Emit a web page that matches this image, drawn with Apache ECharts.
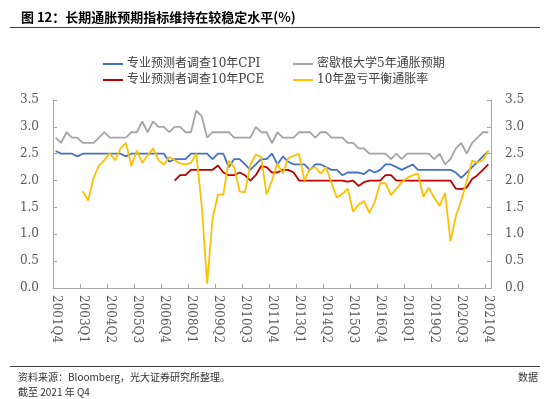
<!DOCTYPE html>
<html>
<head>
<meta charset="utf-8">
<title>长期通胀预期指标</title>
<script src="https://cdn.jsdelivr.net/npm/echarts@6/dist/echarts.min.js"></script>
<style>
  html, body { margin: 0; padding: 0; background: #fff; }
  #chart { width: 550px; height: 399px; }
</style>
</head>
<body>
<div id="chart"></div>
<script>
// 季度标签 2001Q4 - 2021Q4
const quarters = [];
for (let y = 2001; y <= 2021; y++) {
  for (let q = 1; q <= 4; q++) {
    if (y === 2001 && q < 4) continue;
    quarters.push(y + 'Q' + q);
  }
}

// 专业预测者调查10年CPI
const spfCpi = [
  2.55, 2.5, 2.5, 2.5, 2.45, 2.5, 2.5, 2.5, 2.5, 2.5,
  2.5, 2.5, 2.5, 2.45, 2.5, 2.5, 2.5, 2.5, 2.5, 2.5,
  2.5, 2.35, 2.4, 2.4, 2.4, 2.5, 2.5, 2.5, 2.5, 2.4,
  2.5, 2.5, 2.25, 2.4, 2.4, 2.3, 2.2, 2.3, 2.4, 2.4,
  2.5, 2.3, 2.45, 2.35, 2.3, 2.3, 2.3, 2.2, 2.3, 2.3,
  2.25, 2.2, 2.2, 2.1, 2.15, 2.15, 2.15, 2.12, 2.2, 2.15,
  2.2, 2.3, 2.3, 2.25, 2.2, 2.25, 2.3, 2.2, 2.2, 2.2,
  2.2, 2.2, 2.2, 2.2, 2.15, 2.05, 2.15, 2.25, 2.35, 2.45,
  2.55
];

// 密歇根大学5年通胀预期
const michigan5y = [
  2.8, 2.7, 2.9, 2.8, 2.8, 2.7, 2.7, 2.7, 2.8, 2.9,
  2.8, 2.8, 2.8, 2.8, 2.9, 2.9, 3.1, 2.9, 3.1, 3.0,
  3.0, 2.9, 3.0, 3.0, 2.9, 2.9, 3.3, 3.2, 2.8, 2.9,
  2.9, 2.9, 2.9, 2.8, 2.8, 2.8, 2.8, 3.0, 2.9, 2.9,
  2.7, 2.9, 2.8, 2.8, 2.8, 2.9, 2.9, 2.9, 2.8, 2.9,
  2.9, 2.8, 2.8, 2.8, 2.7, 2.7, 2.6, 2.6, 2.5, 2.5,
  2.5, 2.5, 2.4, 2.5, 2.4, 2.5, 2.5, 2.5, 2.5, 2.5,
  2.4, 2.5, 2.3, 2.4, 2.6, 2.7, 2.5, 2.7, 2.8, 2.9,
  2.9
];

// 专业预测者调查10年PCE（2007Q2 起）
const spfPce = [
  null, null, null, null, null, null, null, null, null, null,
  null, null, null, null, null, null, null, null, null, null,
  null, null, 2.0, 2.1, 2.1, 2.2, 2.2, 2.2, 2.2, 2.2,
  2.28, 2.15, 2.1, 2.1, 2.15, 2.1, 2.0, 2.1, 2.27, 2.25,
  2.15, 2.15, 2.2, 2.2, 2.15, 2.0, 2.0, 2.0, 2.0, 2.0,
  2.0, 2.0, 2.0, 2.0, 1.98, 2.0, 1.9, 1.97, 2.0, 2.0,
  2.0, 2.1, 2.1, 2.0, 2.0, 2.0, 2.0, 2.0, 2.0, 2.0,
  2.0, 2.0, 2.0, 2.0, 1.85, 1.84, 1.87, 2.03, 2.1, 2.2,
  2.3
];

// 10年盈亏平衡通胀率（2003Q1 起）
const breakeven10y = [
  null, null, null, null, null, 1.8, 1.63, 2.05, 2.28, 2.38,
  2.51, 2.38, 2.6, 2.7, 2.27, 2.56, 2.33, 2.47, 2.6, 2.38,
  2.3, 2.44, 2.38, 2.32, 2.3, 2.33, 2.5, 1.54, 0.08, 1.29,
  1.74, 1.74, 2.37, 2.25, 1.8, 1.78, 2.3, 2.48, 2.44, 1.74,
  2.0, 2.32, 2.13, 2.42, 2.46, 2.5, 2.0, 2.22, 2.25, 2.13,
  2.25, 1.95, 1.68, 1.75, 1.85, 1.42, 1.55, 1.62, 1.4, 1.6,
  1.95, 1.95, 1.73, 1.85, 1.97, 2.05, 2.1, 2.13, 1.7, 1.87,
  1.68, 1.53, 1.77, 0.87, 1.34, 1.63, 1.99, 2.37, 2.34, 2.38,
  2.56
];

const seriesNames = ['专业预测者调查10年CPI', '密歇根大学5年通胀预期', '专业预测者调查10年PCE', '10年盈亏平衡通胀率'];
const seriesColors = ['#4472C4', '#A5A5A5', '#C00000', '#FFC000'];
const seriesData = [spfCpi, michigan5y, spfPce, breakeven10y];

const serifFont = '"DejaVu Serif", "Noto Sans CJK SC", serif';
const sansFont = '"Noto Sans CJK SC", "Noto Sans", sans-serif';
const axisGray = '#A6A6A6';
const labelColor = '#595959';

const chart = echarts.init(document.getElementById('chart'), null, { renderer: 'canvas' });

// 图例两行两列
const legendPos = [
  { left: 98, top: 53 },
  { left: 288, top: 53 },
  { left: 98, top: 69 },
  { left: 288, top: 69 }
];
const legends = seriesNames.map((name, i) => ({
  data: [name],
  left: legendPos[i].left,
  top: legendPos[i].top,
  icon: 'rect',
  itemWidth: 20,
  itemHeight: 2,
  itemGap: 4,
  textStyle: { fontFamily: serifFont, fontSize: 12, color: '#404040', padding: [0, 0, 0, -1] }
}));

const yAxisCommon = {
  type: 'value',
  min: 0,
  max: 3.5,
  interval: 0.5,
  splitLine: { show: false },
  axisLine: { show: true, lineStyle: { color: axisGray, width: 1 } },
  axisTick: { show: true, inside: true, length: 4, lineStyle: { color: axisGray } },
  axisLabel: {
    margin: 14,
    fontFamily: serifFont,
    fontSize: 12,
    color: labelColor,
    formatter: v => v.toFixed(1)
  }
};

const option = {
  backgroundColor: '#fff',
  animation: false,
  title: {
    text: '图 12：长期通胀预期指标维持在较稳定水平(%)',
    left: 16,
    top: 6,
    textStyle: { fontFamily: sansFont, fontSize: 13, fontWeight: 'bold', color: '#000' }
  },
  legend: legends,
  grid: { left: 53, right: 59, top: 100, bottom: 111 },
  xAxis: {
    type: 'category',
    data: quarters,
    boundaryGap: true,
    axisLine: { lineStyle: { color: axisGray, width: 1 } },
    axisTick: { show: true, inside: true, length: 4, interval: 4, lineStyle: { color: axisGray } },
    axisLabel: {
      interval: 4,
      rotate: -90,
      margin: 7,
      fontFamily: serifFont,
      fontSize: 12,
      color: labelColor
    }
  },
  yAxis: [
    Object.assign({}, yAxisCommon, { position: 'left' }),
    Object.assign({}, yAxisCommon, { position: 'right' })
  ],
  series: seriesNames.map((name, i) => ({
    name,
    type: 'line',
    data: seriesData[i],
    symbol: 'none',
    connectNulls: false,
    lineStyle: { color: seriesColors[i], width: 1.8 },
    itemStyle: { color: seriesColors[i] },
    z: i === 3 ? 5 : 3
  })),
  graphic: [
    // 标题下横线
    { type: 'line', shape: { x1: 10, y1: 27.5, x2: 540, y2: 27.5 }, style: { stroke: '#404040', lineWidth: 1 } },
    // 底部横线
    { type: 'line', shape: { x1: 10, y1: 366.5, x2: 540, y2: 366.5 }, style: { stroke: '#404040', lineWidth: 1 } },
    {
      type: 'text', left: 18, top: 372,
      style: { text: '资料来源：Bloomberg，光大证券研究所整理。', font: '10px ' + sansFont, fill: '#333' }
    },
    {
      type: 'text', right: 12, top: 372,
      style: { text: '数据', font: '10px ' + sansFont, fill: '#333' }
    },
    {
      type: 'text', left: 18, top: 387,
      style: { text: '截至 2021 年 Q4', font: '10px ' + sansFont, fill: '#333' }
    }
  ]
};

chart.setOption(option);
</script>
</body>
</html>
